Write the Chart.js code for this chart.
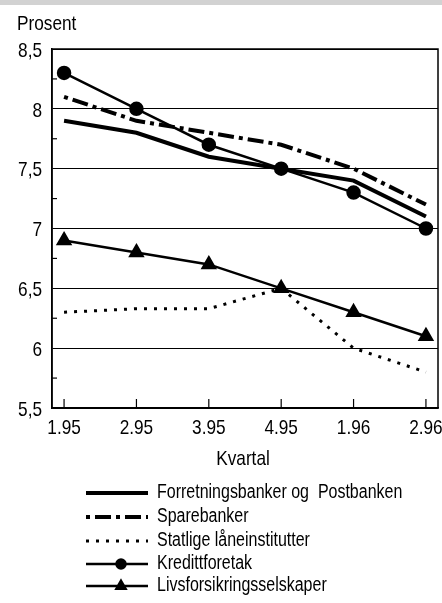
<!DOCTYPE html>
<html><head><meta charset="utf-8">
<script src="https://cdn.jsdelivr.net/npm/chart.js@4"></script>
<style>
html,body{margin:0;padding:0;background:#fff;}
body{width:442px;height:603px;overflow:hidden;}
#wrap{position:relative;width:442px;height:603px;}
.scan{position:absolute;left:0;top:0;width:442px;height:5px;background:#d2d2d2;}
</style></head><body>
<div id="wrap"><div class="scan"></div><canvas id="c" width="442" height="603"></canvas></div>
<script>
const quarters=["1.95","2.95","3.95","4.95","1.96","2.96"];
const forretning=[7.9,7.8,7.6,7.5,7.4,7.1];
const spare=[8.1,7.9,7.8,7.7,7.5,7.2];
const statlige=[6.3,6.33,6.33,6.5,6.0,5.8];
const kreditt=[8.3,8.0,7.7,7.5,7.3,7.0];
const livs=[6.9,6.8,6.7,6.5,6.3,6.1];
const names=["Forretningsbanker og  Postbanken","Sparebanker","Statlige låneinstitutter","Kredittforetak","Livsforsikringsselskaper"];
const yTitle="Prosent";
const xTitle="Kvartal";

// no narrow font installed, so text is squeezed by hand
const FONT="'Liberation Sans',Arial,sans-serif";
const SX=0.82;
Chart.defaults.font.family=FONT;
Chart.defaults.color="#000";

const pts=arr=>arr.map((v,i)=>({x:i,y:v}));
const fmtY=v=>String(v).replace(".",",");

function nText(ctx,str,x,y,size,align){
ctx.save();
ctx.font=size+"px "+FONT;
ctx.textBaseline="middle";
ctx.textAlign="left";
let w=ctx.measureText(str).width*SX;
let x0=align==="right"?x-w:align==="center"?x-w/2:x;
ctx.translate(x0,y);
ctx.scale(SX,1);
ctx.fillStyle="#000";
ctx.fillText(str,0,0);
ctx.restore();
}

function line(label,arr,extra){
return Object.assign({
label,
data:pts(arr),
borderColor:"#000",
backgroundColor:"#000",
borderWidth:3,
pointRadius:0,
tension:0,
fill:false
},extra);
}

const datasets=[
line(names[0],forretning,{borderWidth:4}),
line(names[1],spare,{borderWidth:4,borderDash:[4,5,16,5]}),
line(names[2],statlige,{borderWidth:3,borderDash:[3,7]}),
line(names[3],kreditt,{borderWidth:2.5,pointRadius:6,pointStyle:"circle"}),
line(names[4],livs,{borderWidth:2.5,pointRadius:7,pointStyle:"triangle"})
];

const extras={
id:"extras",
beforeDatasetsDraw(chart){
let ctx=chart.ctx,a=chart.chartArea,y=chart.scales.y,x=chart.scales.x;
ctx.save();
ctx.strokeStyle="#000";
ctx.lineWidth=1.5;
ctx.strokeRect(a.left,a.top,a.right-a.left,a.bottom-a.top);
ctx.lineWidth=1.2;
for(let v=5.75;v<8.5;v+=0.5){
let py=y.getPixelForValue(v);
ctx.beginPath();ctx.moveTo(a.left,py);ctx.lineTo(a.left+5,py);ctx.stroke();
}
x.ticks.forEach(t=>{
let px=x.getPixelForValue(t.value);
ctx.beginPath();ctx.moveTo(px,a.bottom);ctx.lineTo(px,a.bottom-9);ctx.stroke();
});
ctx.restore();

// tick labels
y.ticks.forEach(t=>nText(ctx,fmtY(t.value),a.left-10,y.getPixelForValue(t.value)+2,21,"right"));
x.ticks.forEach(t=>nText(ctx,quarters[t.value],x.getPixelForValue(t.value),a.bottom+20,21,"center"));
nText(ctx,xTitle,(a.left+a.right)/2-2,a.bottom+51,21,"center");
nText(ctx,yTitle,17,24,21,"left");
},
afterDraw(chart){
let ctx=chart.ctx;
let rows=[493,517,541,564,586];
chart.data.datasets.forEach((d,i)=>{
let ry=rows[i];
ctx.save();
ctx.strokeStyle="#000";
ctx.fillStyle="#000";
ctx.lineWidth=d.borderWidth;
ctx.setLineDash(d.borderDash||[]);
ctx.beginPath();ctx.moveTo(86,ry);ctx.lineTo(148,ry);ctx.stroke();
ctx.setLineDash([]);
if(d.pointRadius){
Chart.helpers.drawPoint(ctx,{pointStyle:d.pointStyle,radius:d.pointRadius*0.75,borderWidth:1},121,ry);
ctx.fill();
}
ctx.restore();
nText(ctx,d.label,157,ry,19.5,"left");
});
}
};

new Chart(document.getElementById("c"),{
type:"line",
data:{datasets},
options:{
responsive:false,
animation:false,
layout:{autoPadding:false,padding:{top:49,left:0,right:4,bottom:131}},
plugins:{legend:{display:false},tooltip:{enabled:false}},
scales:{
x:{
type:"linear",
min:-1/6,
max:5+1/6,
afterBuildTicks:s=>{s.ticks=quarters.map((q,i)=>({value:i}));},
afterFit:s=>{s.height=64;},
grid:{display:false},
border:{display:true,color:"#000",width:1.5},
ticks:{display:false}
},
y:{
min:5.5,
max:8.5,
afterFit:s=>{s.width=52;},
grid:{color:"#000",lineWidth:1,drawTicks:false},
border:{display:true,color:"#000",width:1.5},
ticks:{display:false,stepSize:0.5}
}
}
},
plugins:[extras]
});
</script>
</body></html>
